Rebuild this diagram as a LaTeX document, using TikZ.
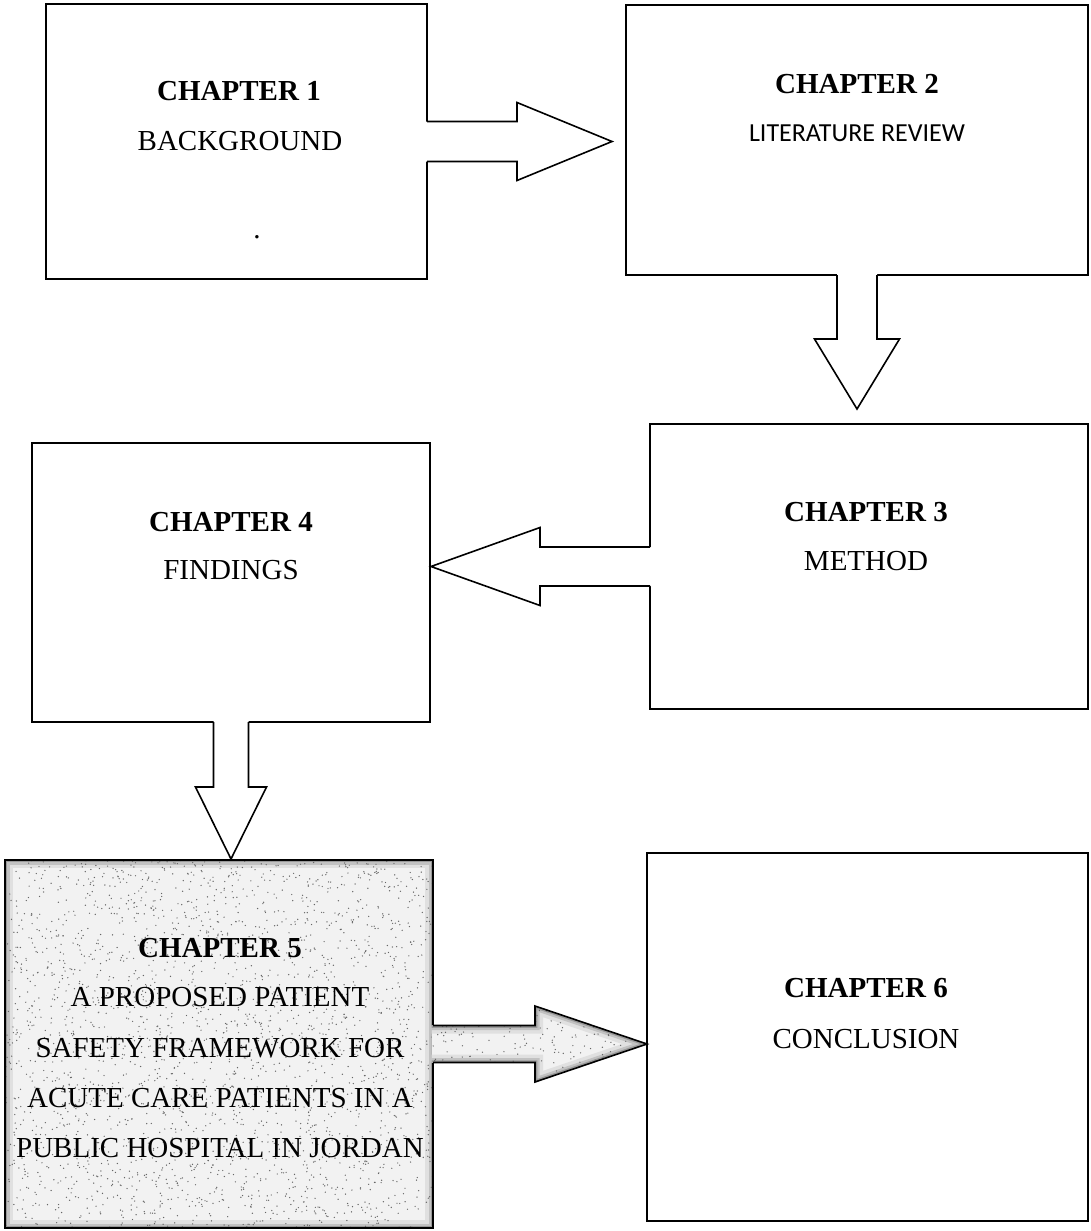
\documentclass[tikz,border=0pt]{standalone}
\usepackage{fontspec}
\setmainfont{Liberation Serif}
\newfontfamily\calibri{Carlito}
\usetikzlibrary{calc}
\begin{document}
\begin{tikzpicture}[x=1pt,y=-1pt,
  box/.style={draw=black,line width=1.6pt,rectangle,anchor=north west,inner sep=0pt,outer sep=0pt,fill=white},
  hd/.style={font=\fontsize{29}{34}\selectfont\bfseries,anchor=base,inner sep=0pt},
  tx/.style={font=\fontsize{29}{34}\selectfont,anchor=base,inner sep=0pt},
  sx/.style={font=\calibri\fontsize{26}{30}\selectfont,anchor=base,inner sep=0pt},
  aline/.style={draw=black,line width=1.6pt,line join=miter},
  tint/.style={fill=black!5},
  bandA/.style={draw=black!12,line width=16pt,line join=miter},
  bandB/.style={draw=black!24,line width=9pt,line join=miter},
  bandC/.style={draw=black!40,line width=4.5pt,line join=miter},
  speck/.style={fill=black!60}]
\useasboundingbox (0,0) rectangle (1090,1231);
\fill[white] (0,0) rectangle (1090,1231);

% boxes
\node[box,minimum width=381pt,minimum height=275pt] (b1) at (46,4) {};
\node[box,minimum width=462pt,minimum height=270pt] (b2) at (626,5) {};
\node[box,minimum width=438pt,minimum height=285pt] (b3) at (650,424) {};
\node[box,minimum width=398pt,minimum height=279pt] (b4) at (32,443) {};
\node[box,minimum width=428pt,minimum height=368pt,tint] (b5) at (5,860) {};
\node[box,minimum width=441pt,minimum height=368pt] (b6) at (647,853) {};

% speckle texture in chapter 5
\pgfmathsetseed{7}
\begin{scope}
\clip (b5.north west) rectangle (b5.south east);
\draw[bandA] (b5.north west) rectangle (b5.south east);
\draw[bandB] (b5.north west) rectangle (b5.south east);
\draw[bandC] (b5.north west) rectangle (b5.south east);
\foreach \i in {1,...,2600}{\fill[speck] ({5+428*rnd},{860+368*rnd}) circle[radius=0.7pt];}
\end{scope}
\draw[line width=1.6pt] (b5.north west) rectangle (b5.south east);

% arrow 1 -> 2
\fill[white] ([shift={(-1.5,-20)}]b1.east) -- ++(91.5,0) -- ++(0,-19) -- ++(95,39) -- ++(-95,39) -- ++(0,-19) -- ++(-91.5,0) -- cycle;
\draw[aline] ([shift={(0,-20)}]b1.east) -- ++(90,0) -- ++(0,-19) -- ++(95,39) coordinate (t12) -- ++(-95,39) -- ++(0,-19) -- ++(-90,0);

% arrow 2 -> 3
\fill[white] ([shift={(-20,-1.5)}]b2.south) -- ++(0,65.5) -- ++(-22.5,0) -- ++(42.5,70) -- ++(42.5,-70) -- ++(-22.5,0) -- ++(0,-65.5) -- cycle;
\draw[aline] ([shift={(-20,0)}]b2.south) -- ++(0,64) -- ++(-22.5,0) -- ++(42.5,70) coordinate (t23) -- ++(42.5,-70) -- ++(-22.5,0) -- ++(0,-64);

% arrow 3 -> 4
\fill[white] ([shift={(1.5,-19.5)}]b3.west) -- ++(-111.5,0) -- ++(0,-19.5) -- ++(-109,39) -- ++(109,39) -- ++(0,-19.5) -- ++(111.5,0) -- cycle;
\draw[aline] ([shift={(0,-19.5)}]b3.west) -- ++(-110,0) -- ++(0,-19.5) -- ++(-109,39) coordinate (t34) -- ++(109,39) -- ++(0,-19.5) -- ++(110,0);

% arrow 4 -> 5
\fill[white] ([shift={(-17.5,-1.5)}]b4.south) -- ++(0,66.5) -- ++(-18,0) -- ++(35.5,72) -- ++(35.5,-72) -- ++(-18,0) -- ++(0,-66.5) -- cycle;
\draw[aline] ([shift={(-17.5,0)}]b4.south) -- ++(0,65) -- ++(-18,0) -- ++(35.5,72) coordinate (t45) -- ++(35.5,-72) -- ++(-18,0) -- ++(0,-65);

% arrow 5 -> 6 (textured)
\fill[tint] ([shift={(-1.5,-18.5)}]b5.east) -- ++(103.5,0) -- ++(0,-19.5) -- ++(112,38) -- ++(-112,38) -- ++(0,-19.5) -- ++(-103.5,0) -- cycle;
\begin{scope}
\clip ([shift={(-1.5,-18.5)}]b5.east) -- ++(103.5,0) -- ++(0,-19.5) -- ++(112,38) -- ++(-112,38) -- ++(0,-19.5) -- ++(-103.5,0) -- cycle;
\draw[bandA] ([shift={(-12,-18.5)}]b5.east) -- ++(114,0) -- ++(0,-19.5) -- ++(112,38) -- ++(-112,38) -- ++(0,-19.5) -- ++(-114,0);
\draw[bandB] ([shift={(-12,-18.5)}]b5.east) -- ++(114,0) -- ++(0,-19.5) -- ++(112,38) -- ++(-112,38) -- ++(0,-19.5) -- ++(-114,0);
\draw[bandC] ([shift={(-12,-18.5)}]b5.east) -- ++(114,0) -- ++(0,-19.5) -- ++(112,38) -- ++(-112,38) -- ++(0,-19.5) -- ++(-114,0);
\foreach \i in {1,...,260}{\fill[speck] ({433+214*rnd},{1005+80*rnd}) circle[radius=0.7pt];}
\end{scope}
\draw[aline] ([shift={(0,-18.5)}]b5.east) -- ++(102,0) -- ++(0,-19.5) -- (b6.west |- b5.east) coordinate (t56) -- ++(-112,38) -- ++(0,-19.5) -- ++(-102,0);

% texts
\node[hd] (c1) at (239,100.5) {CHAPTER 1};
\node[tx] (n1) at (240,150.5) {BACKGROUND};
\node[tx] (d1) at (257,238.5) {.};

\node[hd] (c2) at (857,93.5) {CHAPTER 2};
\node[sx] (n2) at (857,141.5) {LITERATURE REVIEW};

\node[hd] (c3) at (866,521.5) {CHAPTER 3};
\node[tx] (n3) at (866,570.5) {METHOD};

\node[hd] (c4) at (231,531.5) {CHAPTER 4};
\node[tx] (n4) at (231,579.5) {FINDINGS};

\node[hd] (c5) at (220,957.5) {CHAPTER 5};
\node[tx] (n5a) at (220,1006.5) {A PROPOSED PATIENT};
\node[tx] (n5b) at (220,1057.5) {SAFETY FRAMEWORK FOR};
\node[tx] (n5c) at (220,1107.5) {ACUTE CARE PATIENTS IN A};
\node[tx] (n5d) at (220,1157.5) {PUBLIC HOSPITAL IN JORDAN};

\node[hd] (c6) at (866,997.5) {CHAPTER 6};
\node[tx] (n6) at (866,1048.5) {CONCLUSION};
\end{tikzpicture}
\end{document}
